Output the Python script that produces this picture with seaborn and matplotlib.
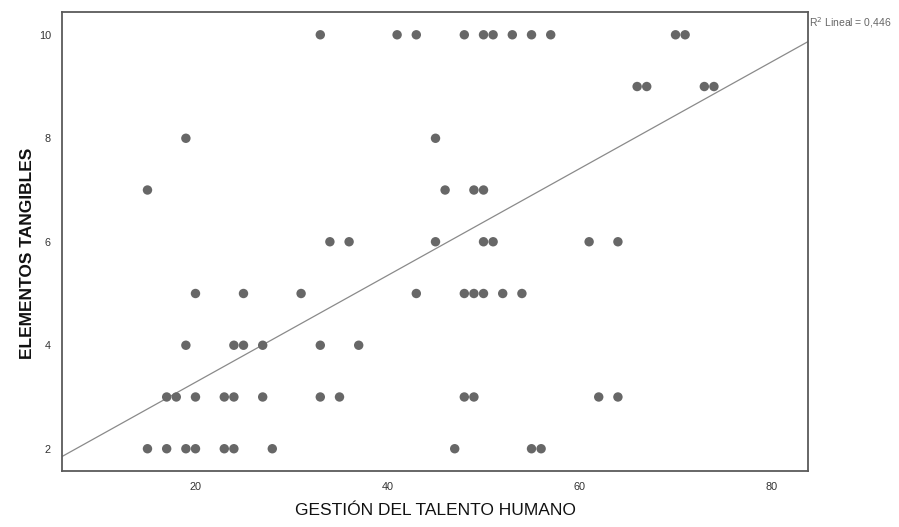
import matplotlib
matplotlib.use("Agg")
import matplotlib.pyplot as plt
import numpy as np
import pandas as pd
import seaborn as sns

# Observed scores: GESTIÓN DEL TALENTO HUMANO (x) grouped by ELEMENTOS TANGIBLES level (y)
tangibles_levels = [10, 9, 8, 7, 6, 5, 4, 3, 2]
talento_by_level = [
    [33, 41, 43, 48, 50, 51, 53, 55, 57, 70, 71],
    [66, 67, 73, 74],
    [19, 45],
    [15, 46, 49, 50],
    [34, 36, 45, 50, 51, 61, 64],
    [20, 25, 31, 43, 48, 49, 50, 52, 54],
    [19, 24, 25, 27, 33, 37],
    [17, 18, 20, 23, 24, 27, 33, 35, 48, 49, 62, 64],
    [15, 17, 19, 20, 23, 24, 28, 47, 55, 56],
]

# Linear fit (total sample) and its label
fit_intercept = 1.22
fit_slope = 0.1032
r2_label = "R$^2$ Lineal = 0,446"

x_ticks = [20, 40, 60, 80]
y_ticks = [2, 4, 6, 8, 10]
x_limits = (6.1, 83.8)
y_limits = (1.57, 10.44)

rows = [(x, lvl) for lvl, xs in zip(tangibles_levels, talento_by_level) for x in xs]
df = pd.DataFrame(rows, columns=["talento", "tangibles"])

fit_x = np.array(x_limits)
fit_df = pd.DataFrame({"talento": fit_x, "tangibles": fit_intercept + fit_slope * fit_x})

sns.set_theme(style="white")
plt.rcParams["font.family"] = ["Liberation Sans", "DejaVu Sans"]

fig = plt.figure(figsize=(8.99, 5.27), dpi=100)
ax = fig.add_axes([0.069, 0.1063, 0.8298, 0.8709])

sns.lineplot(data=fit_df, x="talento", y="tangibles", ax=ax,
             color="#8a8a8a", linewidth=0.9, zorder=2)
sns.scatterplot(data=df, x="talento", y="tangibles", ax=ax,
                color="#676767", s=46, edgecolor="none", zorder=3)

ax.set_xlim(*x_limits)
ax.set_ylim(*y_limits)
ax.set_xticks(x_ticks)
ax.set_yticks(y_ticks)
ax.tick_params(axis="both", length=0, labelsize=7.8, labelcolor="#333333", pad=8)

for spine in ax.spines.values():
    spine.set_color("#5a5a5a")
    spine.set_linewidth(1.3)

ax.set_xlabel("GESTIÓN DEL TALENTO HUMANO", fontsize=12.5, color="#111111", labelpad=8)
ax.set_ylabel("ELEMENTOS TANGIBLES", fontsize=12.5, fontweight="bold",
              color="#111111", labelpad=6)
ax.yaxis.set_label_coords(-0.036, 0.475)

ax.text(1.001, 0.978, r2_label, transform=ax.transAxes, fontsize=7.5,
        color="#666666", ha="left", va="center")

fig.savefig("out.png", dpi=100)
